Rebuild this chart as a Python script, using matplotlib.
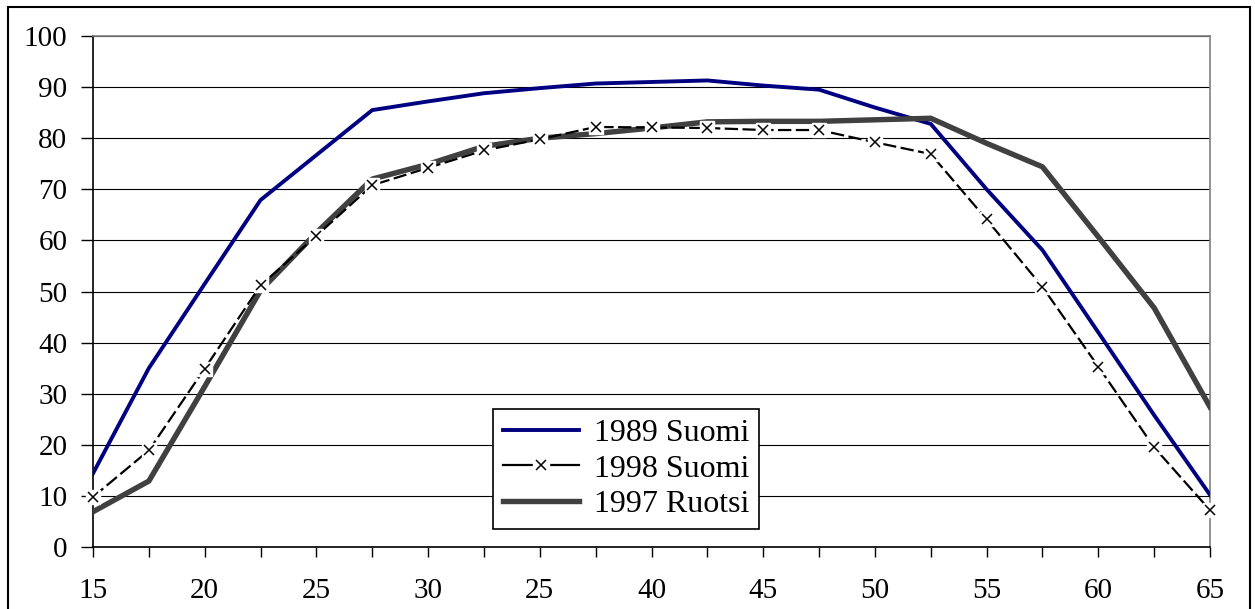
import numpy as np
import matplotlib
matplotlib.use('Agg')
from matplotlib import pyplot as plt
from matplotlib.patches import Rectangle
from matplotlib.lines import Line2D

# ikä 15 ... 65, askel 2.5 (luokka-akseli)
ages = [15, 17.5, 20, 22.5, 25, 27.5, 30, 32.5, 35, 37.5, 40,
        42.5, 45, 47.5, 50, 52.5, 55, 57.5, 60, 62.5, 65]
# alkuperäisessä kuvassa on "25" paikalla 35
tick_labels = ['15', '20', '25', '30', '25', '40', '45', '50', '55', '60', '65']

suomi_1989 = [14.4, 35.0, 51.5, 67.9, 76.7, 85.5, 87.2, 88.8, 89.8, 90.7, 91.0,
              91.3, 90.3, 89.5, 86.0, 82.8, 70.0, 58.1, 42.0, 25.8, 10.2]
suomi_1998 = [9.8, 18.9, 34.9, 51.2, 60.9, 70.8, 74.2, 77.6, 79.8, 82.2, 82.1,
              82.0, 81.6, 81.6, 79.2, 76.9, 64.1, 50.9, 35.3, 19.5, 7.2]
ruotsi_1997 = [6.9, 12.9, 31.4, 50.2, 61.5, 72.0, 74.9, 78.4, 80.0, 80.9, 82.0,
               83.2, 83.3, 83.3, 83.6, 83.9, 79.0, 74.4, 60.7, 46.8, 27.4]

plt.rcParams['font.family'] = ['Liberation Serif', 'DejaVu Serif']

fig = plt.figure(figsize=(12.55, 6.09), dpi=100)
ax = fig.add_axes([93/1255, 1 - 547/609, (1210 - 93)/1255, (547 - 36)/609])

x = np.arange(len(ages))

ax.plot(x, suomi_1989, color='#000080', lw=2.8, zorder=3)
ax.plot(x, ruotsi_1997, color='#404040', lw=3.9, zorder=3)
ax.plot(x, suomi_1998, color='black', lw=1.6, dashes=(6, 2), zorder=4)
# valkoiset taustaneliöt merkkien alle kuten Excelissä
ax.plot(x, suomi_1998, ls='none', marker='s', ms=10, mfc='white', mec='white', zorder=5,
        clip_on=False)
ax.plot(x, suomi_1998, ls='none', marker='x', ms=7.5, mew=1.1, color='black', zorder=6,
        clip_on=False)

ax.set_xlim(0, len(ages) - 1)
ax.set_ylim(0, 100)
ax.set_xticks(x)
ax.set_xticklabels([tick_labels[i // 2] if i % 2 == 0 else '' for i in x])
ax.set_yticks(np.arange(0, 101, 10))

ax.grid(axis='y', color='black', lw=0.8)
ax.set_axisbelow(True)
ax.tick_params(axis='both', direction='out', width=1, labelsize=21, colors='black')
ax.tick_params(axis='x', length=7.5, pad=15)
ax.tick_params(axis='y', length=8.5, pad=10)

for s in ['top', 'right']:
    ax.spines[s].set_color('#808080')
    ax.spines[s].set_linewidth(1.2)
for s in ['left', 'bottom']:
    ax.spines[s].set_color('black')
    ax.spines[s].set_linewidth(1.2)

h_1998 = (Line2D([], [], color='black', lw=1.6),
          Line2D([], [], ls='none', marker='s', ms=11, mfc='white', mec='white'),
          Line2D([], [], ls='none', marker='x', ms=7.5, mew=1.1, color='black'))
handles = [
    Line2D([], [], color='#000080', lw=2.8),
    h_1998,
    Line2D([], [], color='#404040', lw=3.9),
]
leg = ax.legend(handles, ['1989 Suomi', '1998 Suomi', '1997 Ruotsi'],
                loc='lower left', bbox_to_anchor=((493 - 93)/1117, (547 - 529)/511),
                fontsize=23, frameon=True, fancybox=False, edgecolor='black',
                framealpha=1, handlelength=2.4, handletextpad=0.45,
                borderpad=0.3, labelspacing=0.2, borderaxespad=0)
leg.get_frame().set_linewidth(1.2)
leg.set_zorder(10)

# kuvan ulkokehys
fig.patches.append(Rectangle((8/1255, -0.02), (1250 - 8)/1255, 1.02 - 7/609,
                             transform=fig.transFigure, fill=False, ec='black', lw=1.5))

fig.savefig('out.png', dpi=100)
